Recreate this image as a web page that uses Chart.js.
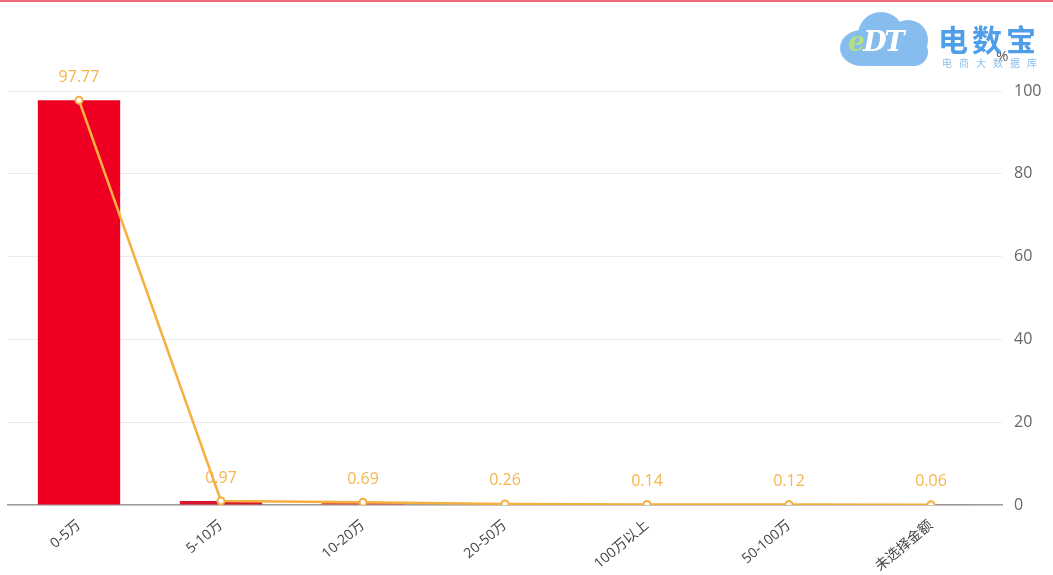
<!DOCTYPE html>
<html>
<head>
<meta charset="utf-8">
<script src="https://cdn.jsdelivr.net/npm/chart.js@4"></script>
<style>
  html, body { margin: 0; padding: 0; background: #fff; }
  .wrap { position: relative; width: 1053px; height: 575px; border-top: 2px solid #ec6a78; box-sizing: border-box; overflow: hidden; }
  canvas { position: absolute; left: 0; top: 0; }
  .logo { position: absolute; left: 836px; top: 4px; width: 215px; height: 66px; }
  .cloud { position: absolute; background: #86bdee; border-radius: 50%; }
  .edt { position: absolute; left: 12px; top: 20px; font: bold italic 27px "DejaVu Serif", serif; color: #fff; letter-spacing: -2px; }
  .edt b { color: #b7e07a; }
  .brand { position: absolute; left: 102px; top: 10px; font: bold 30px "Noto Sans CJK SC", sans-serif; color: #4f9fe8; letter-spacing: 4px; white-space: nowrap; }
  .sub { position: absolute; left: 106px; top: 49px; font: 10px "Noto Sans CJK SC", sans-serif; color: #8cc0ee; letter-spacing: 7px; white-space: nowrap; }
</style>
</head>
<body>
<div class="wrap">
  <canvas id="chart" width="1053" height="573"></canvas>
  <div class="logo">
    <div class="cloud" style="left:4px;top:24px;width:44px;height:36px"></div>
    <div class="cloud" style="left:22px;top:6px;width:46px;height:46px"></div>
    <div class="cloud" style="left:52px;top:14px;width:40px;height:40px"></div>
    <div class="cloud" style="left:20px;top:32px;width:72px;height:28px;border-radius:14px"></div>
    <div class="edt"><b>e</b>DT</div>
    <div class="brand">电数宝</div>
    <div class="sub">电商大数据库</div>
  </div>
</div>
<script>
const categories = ["0-5万", "5-10万", "10-20万", "20-50万", "100万以上", "50-100万", "未选择金额"];
const shares = [97.77, 0.97, 0.69, 0.26, 0.14, 0.12, 0.06];
const barColors = ["#ef0022", "#d8172d", "#e0553a", "#b47686", "#bf8190", "#a88494", "#9c8398"];
const yTicks = [0, 20, 40, 60, 80, 100];

const lineColor = "#f6b040";
const labelFont = '"Open Sans", "Noto Sans CJK SC", sans-serif';

// value labels above the line points, plus the "%" unit over the right axis
const valueLabels = {
    id: "valueLabels",
    afterDatasetsDraw(chart) {
        const ctx = chart.ctx;
        const meta = chart.getDatasetMeta(1);
        ctx.save();
        ctx.font = "16px " + labelFont;
        ctx.fillStyle = "#f5b54c";
        ctx.textAlign = "center";
        ctx.textBaseline = "middle";
        meta.data.forEach((pt, i) => {
            ctx.fillText(shares[i].toFixed(2), pt.x, pt.y - 23);
        });
        const y = chart.scales.y;
        ctx.font = "15px " + labelFont;
        ctx.fillStyle = "#555";
        ctx.textAlign = "left";
        ctx.fillText("%", y.left - 6, 55);
        ctx.restore();
    }
};

const chart = new Chart(document.getElementById("chart"), {
    type: "bar",
    data: {
        labels: categories,
        datasets: [{
            type: "bar",
            data: shares,
            backgroundColor: barColors,
            barPercentage: 0.58,
            categoryPercentage: 1,
            order: 2,
        }, {
            type: "line",
            data: shares,
            borderColor: lineColor,
            borderWidth: 2.5,
            pointRadius: 3.5,
            pointBorderWidth: 2,
            pointBackgroundColor: "#fff",
            pointBorderColor: lineColor,
            tension: 0,
            order: 1,
        }]
    },
    options: {
        responsive: false,
        animation: false,
        layout: { padding: { left: 8, top: 89, right: 0, bottom: 0 } },
        plugins: {
            legend: { display: false },
            tooltip: { enabled: false },
        },
        scales: {
            x: {
                offset: true,
                grid: { display: false },
                border: { color: "#9c9c9c", width: 1.5 },
                ticks: {
                    color: "#444",
                    font: { size: 14, family: labelFont },
                    maxRotation: 40,
                    minRotation: 40,
                    padding: 4,
                },
                afterFit(scale) { scale.height = 70; },
            },
            y: {
                position: "right",
                min: 0,
                max: 100,
                afterBuildTicks(scale) { scale.ticks = yTicks.map(v => ({ value: v })); },
                grid: { color: "#ececec", drawTicks: false },
                border: { display: false },
                ticks: {
                    color: "#666",
                    font: { size: 16, family: labelFont },
                    padding: 12,
                },
                afterFit(scale) { scale.width = 51; },
            }
        }
    },
    plugins: [valueLabels]
});
</script>
</body>
</html>
